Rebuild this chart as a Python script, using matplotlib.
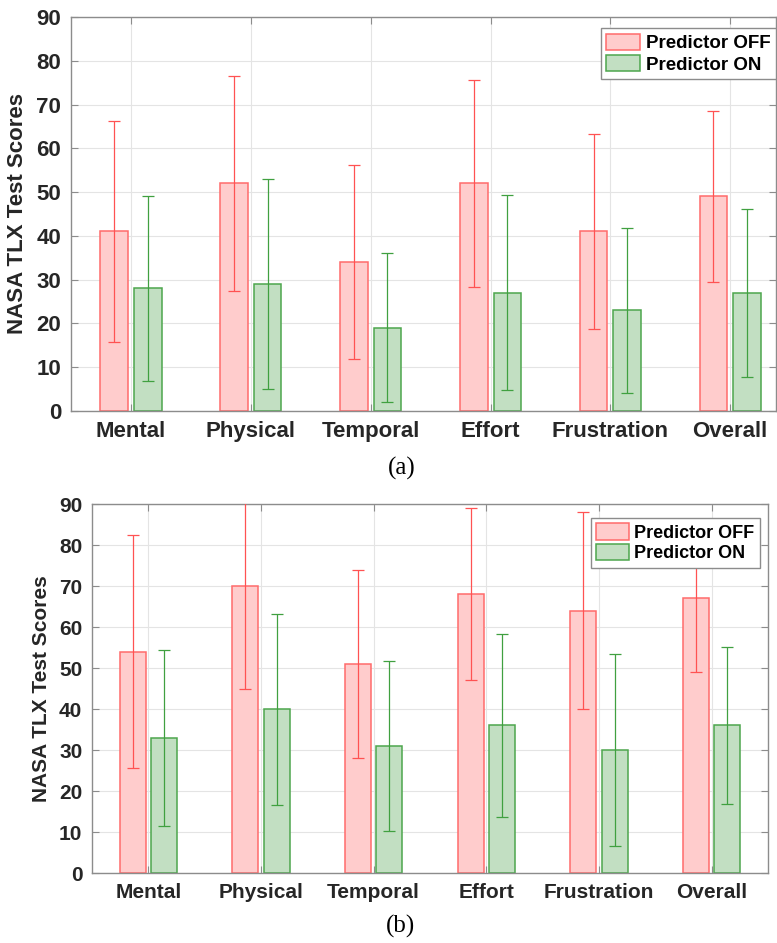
import numpy as np
import matplotlib
matplotlib.use("Agg")
import matplotlib.pyplot as plt

# NASA TLX subscales
categories = ["Mental", "Physical", "Temporal", "Effort", "Frustration", "Overall"]

# (a) means and standard deviations
a_off = [41, 52, 34, 52, 41, 49]
a_off_err = [25.3, 24.6, 22.2, 23.7, 22.3, 19.6]
a_on = [28, 29, 19, 27, 23, 27]
a_on_err = [21.2, 24.0, 17.0, 22.3, 18.8, 19.2]

# (b) means and standard deviations
b_off = [54, 70, 51, 68, 64, 67]
b_off_err = [28.5, 25.2, 23.0, 21.0, 24.0, 18.0]
b_on = [33, 40, 31, 36, 30, 36]
b_on_err = [21.5, 23.3, 20.7, 22.3, 23.5, 19.2]

off_face = "#ffcccc"
off_edge = "#ff6b6b"
on_face = "#c2dfc2"
on_edge = "#4da64d"
txt = "#262626"


def draw_panel(ax, off, off_err, on, on_err, fs, legend_fs, cap, xmax, leg_anchor):
    x = np.arange(1, len(categories) + 1)
    d = 0.14
    w = 0.23
    ax.bar(x - d, off, w, color=off_face, edgecolor=off_edge, linewidth=1.1,
           label="Predictor OFF", zorder=2)
    ax.bar(x + d, on, w, color=on_face, edgecolor=on_edge, linewidth=1.1,
           label="Predictor ON", zorder=2)
    ax.errorbar(x - d, off, yerr=off_err, fmt="none", ecolor="#ff5252",
                elinewidth=0.9, capsize=cap, capthick=0.9, zorder=3)
    ax.errorbar(x + d, on, yerr=on_err, fmt="none", ecolor="#40a040",
                elinewidth=0.9, capsize=cap, capthick=0.9, zorder=3)

    ax.set_xlim(0.5, xmax)
    ax.set_ylim(0, 90)
    ax.set_yticks(range(0, 91, 10))
    ax.set_xticks(x)
    ax.set_xticklabels(categories)
    ax.grid(True, color="#e4e4e4", linewidth=0.8, zorder=0)
    ax.set_axisbelow(True)
    for s in ax.spines.values():
        s.set_color("#8c8c8c")
        s.set_linewidth(1.0)
    ax.tick_params(direction="in", length=5, color="#8c8c8c", top=True, right=True,
                   labelsize=fs, labelcolor=txt, pad=7)
    for lab in ax.get_xticklabels() + ax.get_yticklabels():
        lab.set_fontweight("bold")
    ax.set_ylabel("NASA TLX Test Scores", fontsize=fs, fontweight="bold", color=txt,
                  labelpad=6)

    leg = ax.legend(loc="upper right", bbox_to_anchor=leg_anchor, borderaxespad=0,
                    fancybox=False, framealpha=1, edgecolor="#8c8c8c",
                    prop={"weight": "bold", "size": legend_fs},
                    handlelength=1.8, handleheight=1.0, handletextpad=0.3,
                    labelspacing=0.12, borderpad=0.3)
    leg.get_frame().set_linewidth(1.0)
    leg.set_zorder(5)
    for t in leg.get_texts():
        t.set_color("black")


plt.rcParams["font.family"] = ["Liberation Sans", "DejaVu Sans"]

fig = plt.figure(figsize=(7.77, 9.43), dpi=100)

ax1 = fig.add_axes([0.0914, 0.5642, 0.907, 0.4178])
draw_panel(ax1, a_off, a_off_err, a_on, a_on_err, 16, 13.5, 4.3, 6.38, (1.0, 0.972))

ax2 = fig.add_axes([0.1184, 0.0742, 0.870, 0.3913])
draw_panel(ax2, b_off, b_off_err, b_on, b_on_err, 15, 13, 4, 6.5, (0.988, 0.962))

fig.text(0.517, 1 - 468 / 943, "(a)", ha="center", va="center", fontsize=18,
         family="Liberation Serif")
fig.text(0.515, 1 - 926 / 943, "(b)", ha="center", va="center", fontsize=18,
         family="Liberation Serif")

fig.savefig("out.png", dpi=100)
